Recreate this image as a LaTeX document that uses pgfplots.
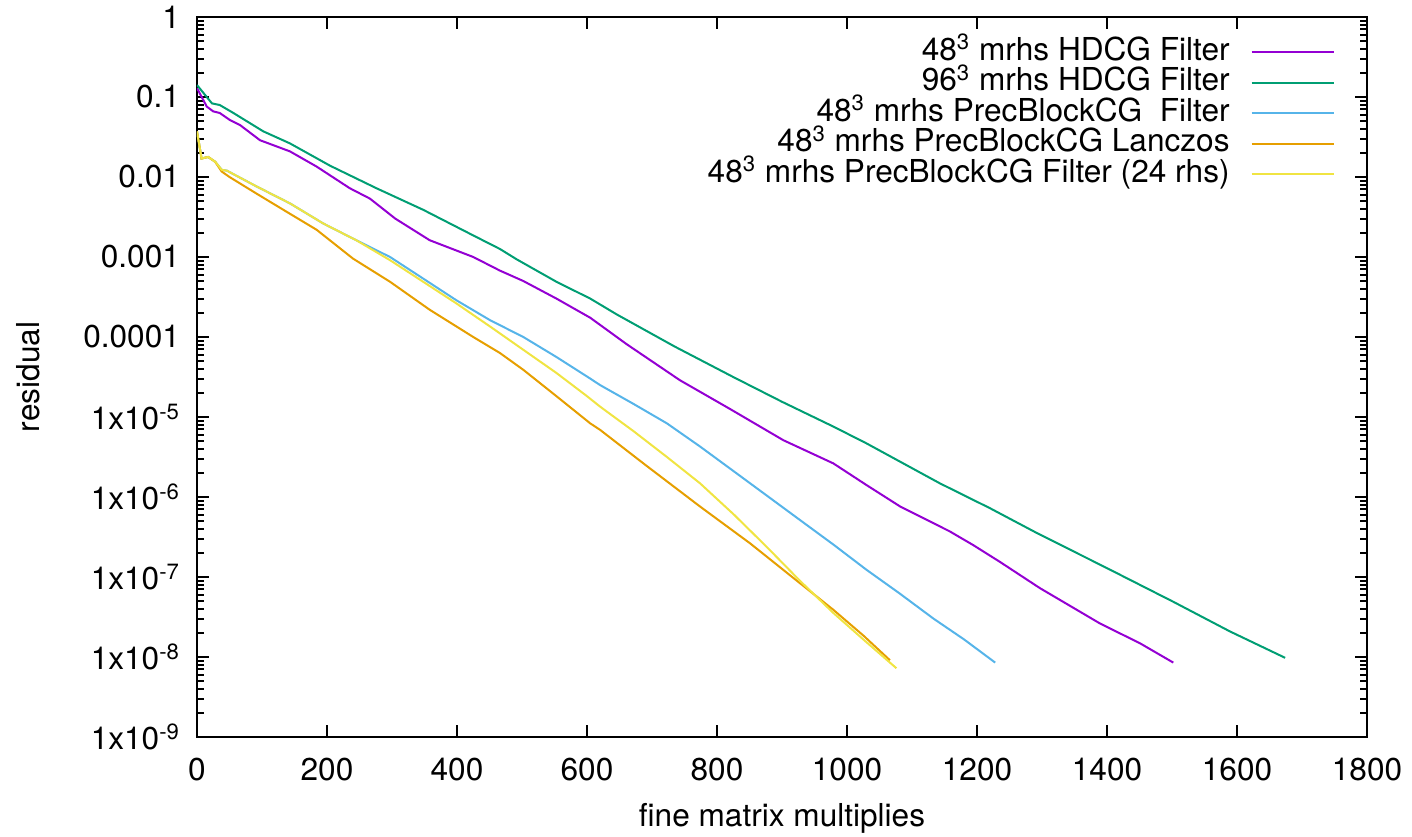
\documentclass[border=0pt]{standalone}
\usepackage{fontspec}
\setmainfont{TeX Gyre Heros}
\usepackage{pgfplots}
\usepackage{pgfplotstable}
\pgfplotsset{compat=1.18}
\definecolor{cpurple}{HTML}{9400D3}
\definecolor{cgreen}{HTML}{009E73}
\definecolor{cblue}{HTML}{56B4E9}
\definecolor{corange}{HTML}{E69F00}
\definecolor{cyellow}{HTML}{F0E442}

\pgfplotstableread{
x y
0 0.129
15 0.0759
25 0.0661
35 0.0631
51 0.0513
66 0.0447
97 0.0288
143 0.0209
184 0.0135
235 0.00724
266 0.00537
305 0.00302
358 0.00162
425 0.00100
466 6.76e-4
502 5.01e-4
553 3.02e-4
605 1.74e-4
661 8.13e-5
743 2.88e-5
820 1.26e-5
902 5.13e-6
979 2.63e-6
1030 1.41e-6
1082 7.59e-7
1158 3.72e-7
1194 2.51e-7
1235 1.55e-7
1297 7.24e-8
1389 2.63e-8
1451 1.48e-8
1502 8.51e-9
}\hdcgA

\pgfplotstableread{
x y
0 0.141
15 0.100
23 0.0832
35 0.0794
56 0.0631
102 0.0372
143 0.0263
205 0.0138
276 0.00724
348 0.00389
425 0.00186
466 0.00126
492 9.33e-4
553 4.90e-4
605 3.02e-4
646 1.91e-4
735 7.59e-5
825 3.16e-5
900 1.55e-5
979 7.59e-6
1030 4.68e-6
1143 1.48e-6
1220 7.24e-7
1292 3.55e-7
1400 1.29e-7
1502 4.90e-8
1589 2.09e-8
1674 9.77e-9
}\hdcgB

\pgfplotstableread{
x y
0 0.0372
7 0.0170
17 0.0178
28 0.0155
38 0.0123
46 0.0120
92 0.00759
143 0.00468
194 0.00263
245 0.00162
297 0.00100
348 5.37e-4
399 2.88e-4
451 1.62e-4
502 1.00e-4
553 5.62e-5
605 3.02e-5
620 2.51e-5
672 1.45e-5
723 8.32e-6
774 4.27e-6
826 2.09e-6
876 1.05e-6
928 5.13e-7
980 2.51e-7
1030 1.23e-7
1080 6.31e-8
1133 3.02e-8
1180 1.66e-8
1228 8.51e-9
}\pbcgF

\pgfplotstableread{
x y
0 0.0372
7 0.0170
17 0.0178
28 0.0155
38 0.0117
50 0.0100
92 0.00617
143 0.00347
184 0.00219
240 9.55e-4
297 4.90e-4
358 2.19e-4
425 1.00e-4
466 6.31e-5
502 3.89e-5
553 1.82e-5
605 8.32e-6
620 6.92e-6
690 2.51e-6
774 7.59e-7
851 2.63e-7
928 8.32e-8
979 3.89e-8
1025 1.86e-8
1066 9.12e-9
}\pbcgL

\pgfplotstableread{
x y
0 0.0372
7 0.0170
17 0.0178
28 0.0155
38 0.0123
46 0.0120
92 0.00759
143 0.00468
194 0.00263
245 0.00162
297 9.12e-4
348 4.90e-4
399 2.63e-4
451 1.35e-4
502 6.92e-5
553 3.55e-5
600 1.82e-5
620 1.35e-5
672 6.61e-6
723 3.16e-6
774 1.48e-6
826 6.03e-7
876 2.40e-7
928 8.91e-8
979 3.55e-8
1028 1.58e-8
1076 7.24e-9
}\pbcgT

\newcommand{\ylab}[1]{\ifcase#1\relax \or 1x10\textsuperscript{-9}\or 1x10\textsuperscript{-8}\or 1x10\textsuperscript{-7}\or 1x10\textsuperscript{-6}\or 1x10\textsuperscript{-5}\or 0.0001\or 0.001\or 0.01\or 0.1\or 1\fi}

\begin{document}
\begin{tikzpicture}[font=\fontsize{15.8}{19}\selectfont]
\begin{axis}[
  name=ax,
  scale only axis,
  width=585pt, height=360pt,
  ymode=log,
  xmin=0, xmax=1800, ymin=1e-9, ymax=1,
  xtick={0,200,...,1800},
  yticklabel={\ylab{\ticknum}},
  xticklabel style={/pgf/number format/assume math mode=true, /pgf/number format/1000 sep={}},
  xticklabel shift=7pt,
  yticklabel shift=5pt,
  xtick pos=both, ytick pos=both,
  tick align=inside,
  major tick length=6pt,
  minor tick length=3.5pt,
  tick style={black, line width=0.9pt},
  axis line style={line width=1.1pt},
  xlabel={fine matrix multiplies},
  ylabel={residual},
  xlabel style={at={(axis description cs:0.5,-0.1125)}, anchor=center},
  ylabel style={at={(axis description cs:-0.1444,0.5)}, anchor=center},
  every axis plot/.append style={line width=1pt},
  legend cell align=right,
  legend plot pos=right,
  legend image code/.code={\draw[#1] (0pt,0pt) -- (41pt,0pt);},
  legend style={at={(1,1)}, anchor=north east, xshift=-16pt, yshift=-10pt,
    draw=none, fill=none, inner sep=0pt, row sep=0.25pt,
    nodes={inner sep=0pt, text height=11.5pt, text depth=3.5pt},
    /tikz/every odd column/.append style={column sep=10.5pt}},
]
\addplot[cpurple] table[x=x,y=y] {\hdcgA};
\addlegendentry{48\textsuperscript{3} mrhs HDCG Filter}
\addplot[cgreen] table[x=x,y=y] {\hdcgB};
\addlegendentry{96\textsuperscript{3} mrhs HDCG Filter}
\addplot[cblue] table[x=x,y=y] {\pbcgF};
\addlegendentry{48\textsuperscript{3} mrhs PrecBlockCG~~Filter}
\addplot[corange] table[x=x,y=y] {\pbcgL};
\addlegendentry{48\textsuperscript{3} mrhs PrecBlockCG Lanczos}
\addplot[cyellow] table[x=x,y=y] {\pbcgT};
\addlegendentry{48\textsuperscript{3} mrhs PrecBlockCG Filter (24 rhs)}
\end{axis}
\pgfresetboundingbox
\path[use as bounding box] ([shift={(-98.5pt,-50pt)}]ax.south west) rectangle ([shift={(22.5pt,8.5pt)}]ax.north east);
\end{tikzpicture}
\end{document}
